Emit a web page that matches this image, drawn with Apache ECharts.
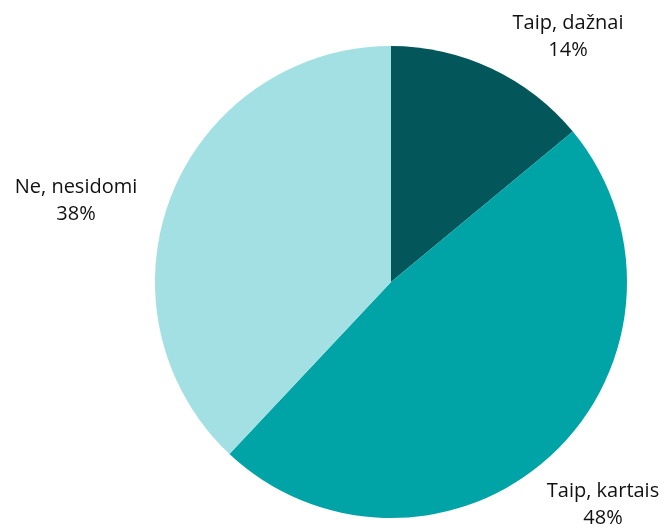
<!DOCTYPE html>
<html>
<head>
<meta charset="utf-8">
<script src="https://cdn.jsdelivr.net/npm/echarts@6/dist/echarts.min.js"></script>
<style>
  html, body { margin: 0; padding: 0; background: #fff; }
  #chart { width: 666px; height: 530px; }
</style>
</head>
<body>
<div id="chart"></div>
<script>
const categories = ['Taip, dažnai', 'Taip, kartais', 'Ne, nesidomi'];
const values = [14, 48, 38];
const colors = ['#03575b', '#00a3a6', '#a2e0e3'];

// where the labels sit (centre of the two-line block)
const labelSpots = [[568, 37], [603, 505], [76, 201]];

const chart = echarts.init(document.getElementById('chart'));

chart.setOption({
  animation: false,
  textStyle: {
    fontFamily: 'Open Sans, Liberation Sans, sans-serif'
  },
  series: [{
    type: 'pie',
    center: [391, 282],
    radius: 236,
    startAngle: 90,
    clockwise: true,
    color: colors,
    data: categories.map((name, i) => ({ name, value: values[i] })),
    itemStyle: { borderWidth: 0 },
    label: {
      show: true,
      position: 'outside',
      formatter: '{b}\n{c}%',
      color: '#111',
      fontSize: 20,
      lineHeight: 27,
      align: 'center',
      overflow: 'none',
      width: 200
    },
    labelLine: { show: false },
    labelLayout: function (params) {
      const p = labelSpots[params.dataIndex];
      return { x: p[0], y: p[1], align: 'center', verticalAlign: 'middle' };
    }
  }]
});
</script>
</body>
</html>
